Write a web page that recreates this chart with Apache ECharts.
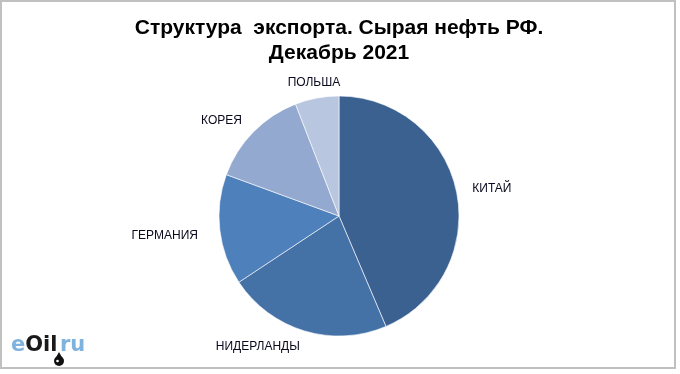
<!DOCTYPE html>
<html>
<head>
<meta charset="utf-8">
<script src="https://cdn.jsdelivr.net/npm/echarts@6/dist/echarts.min.js"></script>
<style>
html,body{margin:0;padding:0;background:#fff;}
#chart{width:680px;height:374px;}
</style>
</head>
<body>
<div id="chart"></div>
<script>
var categories = ['КИТАЙ', 'НИДЕРЛАНДЫ', 'ГЕРМАНИЯ', 'КОРЕЯ', 'ПОЛЬША'];
var shares = [43.6, 22.1, 14.9, 13.5, 5.9];
var colors = ['#3B6190', '#4472A6', '#4E80BC', '#94A9D0', '#B9C6E0'];
var titleLines = ['Структура  экспорта. Сырая нефть РФ.', 'Декабрь 2021'];

var chart = echarts.init(document.getElementById('chart'), null, {renderer: 'canvas'});
var wmFont = 'DejaVu Sans, Verdana, sans-serif';
var option = {
  backgroundColor: '#ffffff',
  animation: false,
  title: {
    text: titleLines.join('\n'),
    left: 334,
    textAlign: 'center',
    top: 11,
    textStyle: {
      fontFamily: 'Liberation Sans, Arial, sans-serif',
      fontWeight: 'bold',
      fontSize: 21,
      lineHeight: 25,
      color: '#000'
    }
  },
  graphic: [
    {
      type: 'rect',
      shape: {x: 1, y: 1, width: 674, height: 367},
      style: {fill: 'none', stroke: '#c0c0c0', lineWidth: 2},
      silent: true
    },
    {
      type: 'text',
      x: 11,
      y: 335,
      style: {
        text: '{a|e}{b|Oil}',
        rich: {
          a: {fontFamily: wmFont, fontSize: 21, fontWeight: 'bold', fill: '#7FB3DD'},
          b: {fontFamily: wmFont, fontSize: 21, fontWeight: 'bold', fill: '#1a1a1a'}
        }
      },
      silent: true
    },
    {
      type: 'text',
      x: 60,
      y: 335,
      style: {
        text: 'ru',
        font: 'bold 21px DejaVu Sans, Verdana, sans-serif',
        fill: '#7FB3DD'
      },
      silent: true
    },
    {
      type: 'polygon',
      shape: {points: [[59, 352], [63.5, 360], [54.5, 360]]},
      style: {fill: '#111'},
      silent: true
    },
    {
      type: 'circle',
      shape: {cx: 59, cy: 361, r: 5},
      style: {fill: '#111'},
      silent: true
    },
    {
      type: 'circle',
      shape: {cx: 57.5, cy: 361, r: 1.3},
      style: {fill: '#ffffff'},
      silent: true
    }
  ],
  series: [{
    type: 'pie',
    center: [339, 216],
    radius: [0, 120],
    startAngle: 90,
    clockwise: true,
    avoidLabelOverlap: false,
    itemStyle: {borderColor: '#ffffff', borderWidth: 0.6},
    label: {
      show: true,
      position: 'outside',
      distanceToLabelLine: 0,
      fontFamily: 'Liberation Sans, Arial, sans-serif',
      fontSize: 12,
      color: '#0a0a1e'
    },
    labelLine: {show: false, length: 16, length2: 0},
    labelLayout: function (p) {
      if (p.dataIndex === 4) { return {align: 'center'}; }
      if (p.dataIndex === 2) { return {dx: -6, dy: 4}; }
      return {};
    },
    emphasis: {disabled: true},
    data: categories.map(function (c, i) {
      return {name: c, value: shares[i], itemStyle: {color: colors[i]}};
    })
  }]
};
chart.setOption(option);
</script>
</body>
</html>
